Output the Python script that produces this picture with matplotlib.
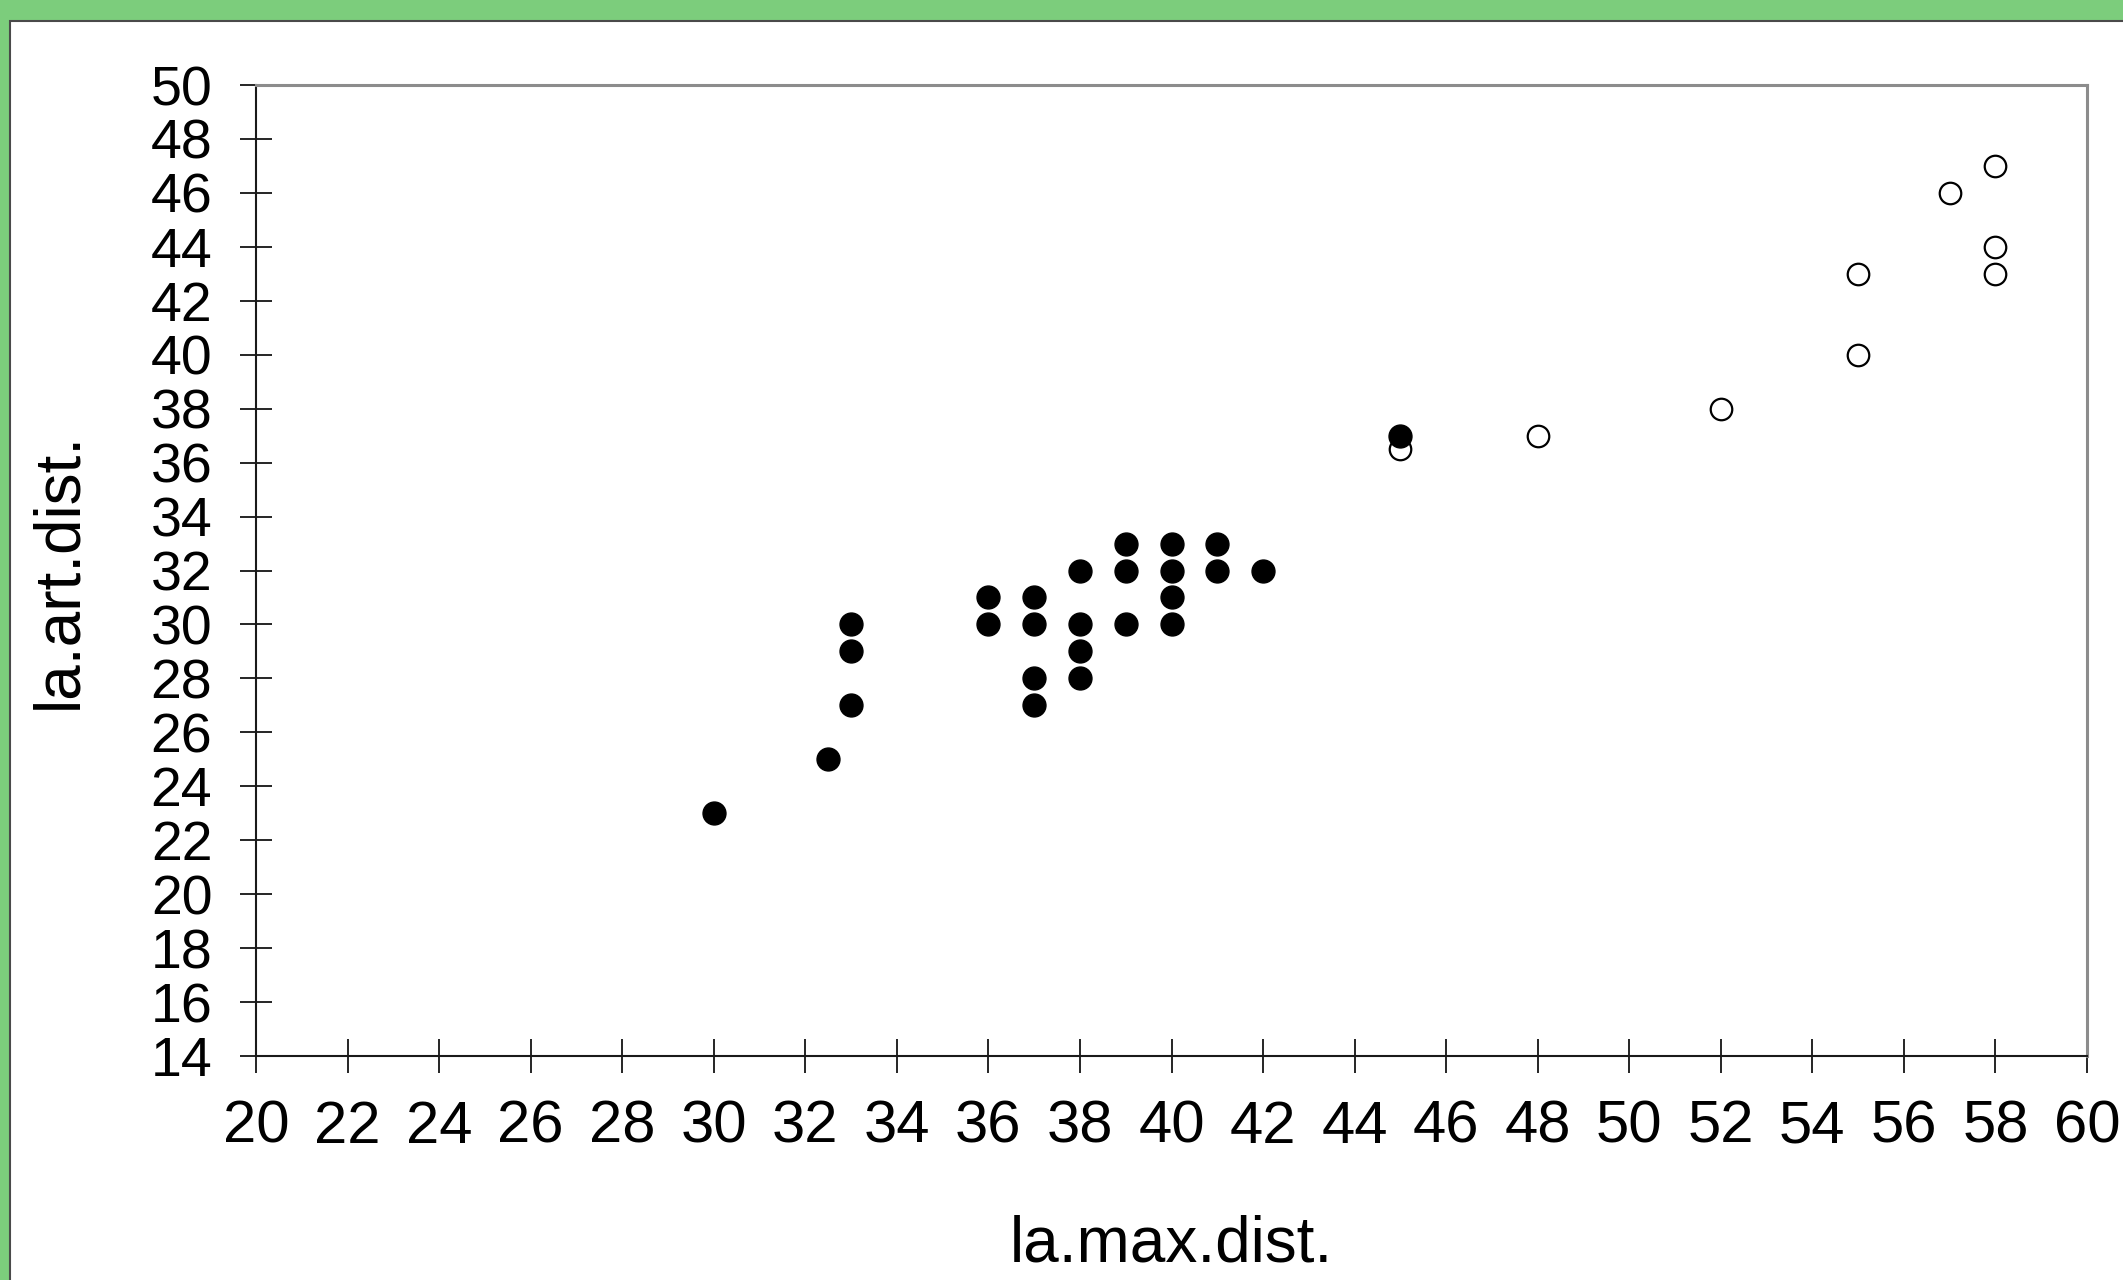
import matplotlib.pyplot as plt
from matplotlib.patches import Rectangle

plt.rcParams['font.family'] = ['Liberation Sans', 'DejaVu Sans']

# filled points
solid_x = [30, 32.5, 33, 33, 33, 36, 36, 37, 37, 37, 37, 38, 38, 38, 38,
           39, 39, 39, 40, 40, 40, 40, 41, 41, 42, 45]
solid_y = [23, 25, 27, 29, 30, 30, 31, 27, 28, 30, 31, 28, 29, 30, 32,
           30, 32, 33, 30, 31, 32, 33, 32, 33, 32, 37]

# open points
open_x = [45, 48, 52, 55, 55, 57, 58, 58, 58]
open_y = [36.5, 37, 38, 40, 43, 46, 47, 44, 43]

x_ticks = list(range(20, 61, 2))
y_ticks = list(range(14, 51, 2))

fig = plt.figure(figsize=(21.23, 12.8), dpi=100, facecolor='#7ccd7c')

# white panel inside the green frame
fig.patches.append(Rectangle((10 / 2123, -0.05), 1.1, 1 - 21 / 1280 + 0.05,
                             transform=fig.transFigure, facecolor='white',
                             edgecolor='#4a4a4a', linewidth=1.5, zorder=-10))

ax = fig.add_axes([256 / 2123, 1 - 1056 / 1280, (2087 - 256) / 2123, (1056 - 85) / 1280])
ax.set_facecolor('none')

ax.plot(open_x, open_y, 'o', markersize=15.5, markerfacecolor='white',
        markeredgecolor='black', markeredgewidth=1.6, linestyle='none', zorder=3)
ax.plot(solid_x, solid_y, 'o', markersize=16.5, color='black',
        linestyle='none', zorder=4)

ax.set_xlim(20, 60)
ax.set_ylim(14, 50)
ax.set_xticks(x_ticks)
ax.set_yticks(y_ticks)

for side in ['top', 'right']:
    ax.spines[side].set_color('#8c8c8c')
    ax.spines[side].set_linewidth(2.2)
for side in ['left', 'bottom']:
    ax.spines[side].set_color('#1a1a1a')
    ax.spines[side].set_linewidth(1.5)

ax.tick_params(axis='y', direction='inout', length=23, width=1.2,
               labelsize=40, pad=20)
ax.tick_params(axis='x', direction='inout', length=25, width=1.2,
               labelsize=43, pad=19)

ax.set_xlabel('la.max.dist.', fontsize=46)
ax.set_ylabel('la.art.dist.', fontsize=46)
ax.xaxis.set_label_coords(0.5, -0.163)
ax.yaxis.set_label_coords(-0.091, 0.5)

plt.savefig('out.png', dpi=100, facecolor=fig.get_facecolor())
